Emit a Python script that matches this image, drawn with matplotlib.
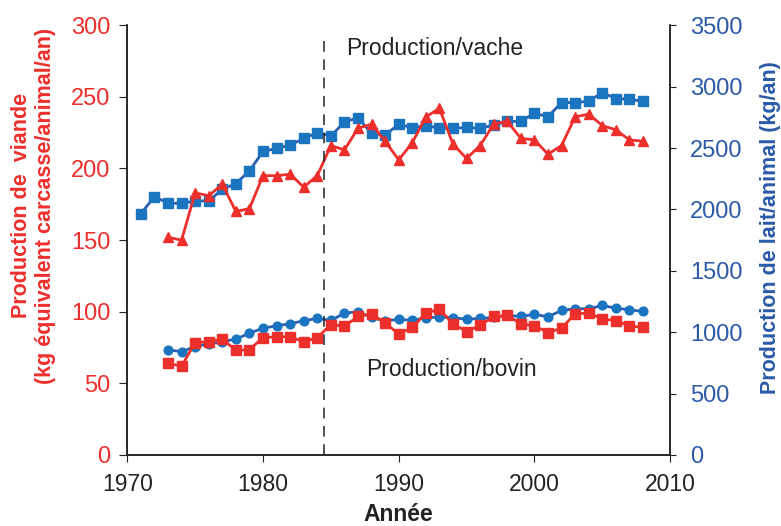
import numpy as np
import matplotlib.pyplot as plt

plt.rcParams["font.family"] = ["Liberation Sans", "DejaVu Sans"]

ROUGE = "#ED2F2C"
BLEU_LIGNE = "#2B5FAD"
BLEU_POINT = "#1A74BF"
BLEU_TEXTE = "#2A5AA8"

annees_vache = list(range(1971, 2009))
annees = list(range(1973, 2009))

# lait par vache (kg/an), axe droit
lait_vache = [1965, 2104, 2050, 2050, 2069, 2069, 2164, 2210, 2314, 2472,
              2497, 2524, 2578, 2625, 2598, 2712, 2747, 2619, 2606, 2693,
              2666, 2682, 2663, 2660, 2668, 2660, 2687, 2717, 2717, 2783,
              2756, 2870, 2870, 2881, 2952, 2903, 2897, 2881]

# viande par vache (kg eq. carcasse), axe gauche
viande_vache = [152, 150, 183, 181, 189, 170, 172, 195, 195, 196,
                187, 195, 216, 213, 228, 231, 219, 206, 218, 236,
                242, 217, 207, 216, 231, 233, 221, 220, 210, 216,
                236, 238, 230, 227, 220, 219]

# lait par bovin (kg/an), axe droit
lait_bovin = [856, 842, 883, 905, 924, 943, 992, 1033, 1052, 1069,
              1093, 1112, 1096, 1155, 1167, 1120, 1090, 1106, 1096, 1118,
              1123, 1118, 1106, 1112, 1120, 1137, 1128, 1145, 1126, 1177,
              1191, 1191, 1218, 1196, 1183, 1169]

# viande par bovin (kg eq. carcasse), axe gauche
viande_bovin = [64, 62, 78.5, 79, 81, 73, 73.5, 82, 82.5, 82.5,
                79, 82, 91, 90, 96.7, 98.6, 92, 84.6, 89, 99,
                101.8, 91.6, 86.2, 90.5, 96.7, 97.4, 91.6, 90.2, 85.5, 88.5,
                98.6, 99, 95.1, 93.7, 90.2, 89]

fig = plt.figure(figsize=(7.81, 5.26), dpi=100)
ax = fig.add_axes([0.163, 0.135, 0.695, 0.817])
ax2 = ax.twinx()

ax2.plot(annees_vache, lait_vache, color=BLEU_LIGNE, lw=2, marker="s",
         ms=6.8, mfc=BLEU_POINT, mec=BLEU_POINT, zorder=3)
ax2.plot(annees, lait_bovin, color=BLEU_LIGNE, lw=2, marker="o",
         ms=6.3, mfc=BLEU_POINT, mec=BLEU_POINT, zorder=3)

ax.plot(annees, viande_vache, color=ROUGE, lw=2, marker="^", ms=6.8,
        mfc=ROUGE, mec=ROUGE)
ax.plot(annees, viande_bovin, color=ROUGE, lw=2, marker="s", ms=6.8,
        mfc=ROUGE, mec=ROUGE)

ax.set_zorder(ax2.get_zorder() + 1)
ax.patch.set_visible(False)

ax.plot([1984.5, 1984.5], [0, 291], color="#222222", lw=1.1,
        dashes=(7, 5))

ax.text(1986.1, 284, "Production/vache", fontsize=16.5, va="center",
        color="#222222")
ax.text(1987.6, 60, "Production/bovin", fontsize=16.5, va="center",
        color="#222222")

ax.set_xlim(1970, 2010)
ax.set_ylim(0, 300)
ax2.set_ylim(0, 3500)
ax.set_xticks([1970, 1980, 1990, 2000, 2010])
ax.set_yticks(np.arange(0, 301, 50))
ax2.set_yticks(np.arange(0, 3501, 500))

for a in (ax, ax2):
    a.spines["top"].set_visible(False)
    for s in a.spines.values():
        s.set_color("#222222")
        s.set_linewidth(1.1)

ax.tick_params(axis="x", labelsize=16.5, colors="#222222", length=5,
               direction="out", pad=8)
ax.tick_params(axis="y", labelsize=17, labelcolor=ROUGE, color="#222222",
               length=5.5, direction="out", pad=6.5)
ax2.tick_params(axis="y", labelsize=17, labelcolor=BLEU_TEXTE,
                color="#222222", length=4, direction="out", pad=10.5)

ax.set_xlabel("Année", fontsize=16.5, fontweight="bold", color="#222222",
              labelpad=5)
ax.set_ylabel("Production de  viande\n(kg équivalent carcasse/animal/an)",
              fontsize=15.5, fontweight="bold", color=ROUGE)
ax.yaxis.set_label_coords(-0.131, 0.58)
ax2.set_ylabel("Production de lait/animal (kg/an)", fontsize=15.5,
               fontweight="bold", color=BLEU_TEXTE)
ax2.yaxis.set_label_coords(1.166, 0.53)

fig.savefig("out.png", dpi=100)
